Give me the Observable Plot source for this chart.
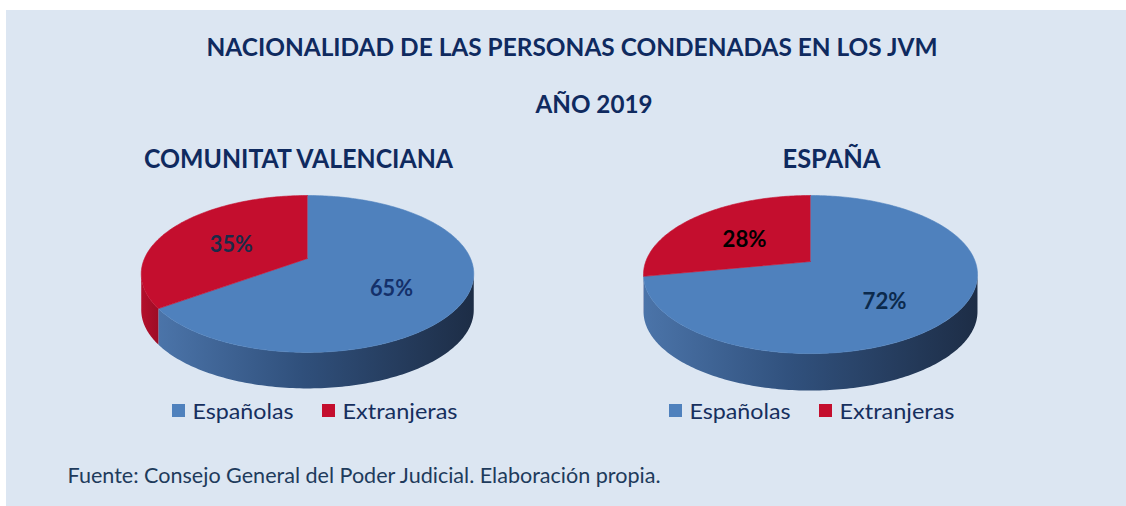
<!DOCTYPE html>
<html><head><meta charset="utf-8">
<script src="https://cdn.jsdelivr.net/npm/d3@7"></script>
<script src="https://cdn.jsdelivr.net/npm/@observablehq/plot@0.6"></script>
<style>
html,body{margin:0;padding:0;background:#fff;width:1126px;height:506px;overflow:hidden}
#panel{position:absolute;left:6px;top:10px;width:1120px;height:496px;background:#dce6f2}
#chart{position:absolute;left:0;top:0}
</style></head><body><div id="panel"></div><div id="chart"></div>
<script>
// ---- data ----
const title = "NACIONALIDAD DE LAS PERSONAS CONDENADAS EN LOS JVM";
const subtitle = "AÑO 2019";
const regions = ["COMUNITAT VALENCIANA", "ESPAÑA"];
const categories = ["Españolas", "Extranjeras"];
const sharesCV = [65, 35];
const sharesES = [72, 28];
const source = "Fuente: Consejo General del Poder Judicial. Elaboración propia.";

// ---- style / layout ----
const W = 1126, H = 506;
const colors = {"Españolas": "#4f81bd", "Extranjeras": "#c40e2e"};
const sideFill = {"Españolas": "url(#gBlue)", "Extranjeras": "url(#gRed)"};
const navy = "#0f2a5f";
const font = "Lato, 'Open Sans', sans-serif";
const pies = [
  {region: regions[0], shares: sharesCV, cx: 307, cy: 258, R: 163, K: 75.4, p: 0.197, depth: 36,
   titleX: 298, legendX: 172, labelColors: ["#14306a", "#1b2a48"]},
  {region: regions[1], shares: sharesES, cx: 810, cy: 261, R: 164.7, K: 76.9, p: 0.165, depth: 37,
   titleX: 831, legendX: 669, labelColors: ["#0c2a4c", "#000000"]}
];
const widths = {
  [title]: 731, [subtitle]: 117, [regions[0]]: 309, [regions[1]]: 98,
  "Españolas": 101, "Extranjeras": 115, [source]: 593,
  "35%": 43, "65%": 43, "28%": 44, "72%": 44
};

// perspective projection of a point on the tilted disc
function proj(pie, phi, r = 1) {
  const u = Math.sin(phi) * r, v = Math.cos(phi) * r;
  const s = 1 / (1 + pie.p * v);
  return [pie.cx + pie.R * u * s, pie.cy - pie.K * v * s];
}
function arcAngles(a0, a1) {
  const n = Math.max(2, Math.ceil((a1 - a0) / (Math.PI / 180)));
  return d3.range(n + 1).map(i => a0 + (a1 - a0) * i / n);
}

const topPts = [], sidePts = [], labels = [], legend = [];
pies.forEach((pie, pi) => {
  const arcs = d3.pie().sort(null).value(d => d)(pie.shares);
  const front = Math.acos(-pie.p); // silhouette angles
  arcs.forEach((a, si) => {
    const cat = categories[si];
    const id = `${pi}-${si}`;
    topPts.push({id, cat, x: pie.cx, y: pie.cy});
    arcAngles(a.startAngle, a.endAngle).forEach(phi => {
      const [x, y] = proj(pie, phi);
      topPts.push({id, cat, x, y});
    });
    const s0 = Math.max(a.startAngle, front), s1 = Math.min(a.endAngle, 2 * Math.PI - front);
    if (s1 > s0) {
      const ph = arcAngles(s0, s1);
      ph.forEach(phi => { const [x, y] = proj(pie, phi); sidePts.push({id, cat, x, y}); });
      ph.slice().reverse().forEach(phi => { const [x, y] = proj(pie, phi); sidePts.push({id, cat, x, y: y + pie.depth}); });
    }
    const mid = (a.startAngle + a.endAngle) / 2;
    const [lx, ly] = proj(pie, mid, 0.55);
    labels.push({x: lx, y: ly + (Math.cos(mid) < 0 ? pie.depth * 0.3 : 4),
                 text: `${pie.shares[si]}%`, color: pie.labelColors[si]});
  });
  categories.forEach((cat, i) => legend.push({cat, x: pie.legendX + i * 150, color: colors[cat]}));
});

const defsMark = () => {
  const g = d3.create("svg:g");
  const defs = g.append("defs");
  const gb = defs.append("linearGradient").attr("id", "gBlue").attr("x1", 0).attr("x2", 1).attr("y1", 0).attr("y2", 0);
  [[0, "#4b74a9"], [0.45, "#30507c"], [1, "#1d2d46"]].forEach(([o, c]) => gb.append("stop").attr("offset", o).attr("stop-color", c));
  const gr = defs.append("linearGradient").attr("id", "gRed").attr("x1", 0).attr("x2", 1).attr("y1", 0).attr("y2", 0);
  [[0, "#b3102c"], [1, "#9e0c25"]].forEach(([o, c]) => gr.append("stop").attr("offset", o).attr("stop-color", c));
  return g.node();
};

const marks = [defsMark];
categories.forEach(cat => {
  marks.push(Plot.line(sidePts.filter(d => d.cat === cat), {x: "x", y: "y", z: "id", fill: sideFill[cat], stroke: "none"}));
});
categories.forEach(cat => {
  marks.push(Plot.line(topPts.filter(d => d.cat === cat), {x: "x", y: "y", z: "id", fill: colors[cat], stroke: colors[cat], strokeWidth: 0.6}));
});
marks.push(
  Plot.text(labels, {x: "x", y: "y", text: "text", fill: "color", fontFamily: font, fontWeight: "bold", fontSize: 23, lineAnchor: "middle"}),
  Plot.text([title], {x: () => 571.5, y: () => 55, text: d => d, fill: navy, fontFamily: font, fontWeight: "bold", fontSize: 25, lineAnchor: "bottom"}),
  Plot.text([subtitle], {x: () => 593.5, y: () => 112, text: d => d, fill: navy, fontFamily: font, fontWeight: "bold", fontSize: 25, lineAnchor: "bottom"}),
  Plot.text(pies, {x: "titleX", y: () => 167, text: "region", fill: navy, fontFamily: font, fontWeight: "bold", fontSize: 26, lineAnchor: "bottom"}),
  Plot.rect(legend, {x1: "x", x2: d => d.x + 13, y1: () => 404, y2: () => 417, fill: "color"}),
  Plot.text(legend, {x: d => d.x + 20, y: () => 418, text: "cat", fill: "#162f5e", fontFamily: font, fontSize: 21, textAnchor: "start", lineAnchor: "bottom"}),
  Plot.text([source], {x: () => 67, y: () => 482, text: d => d, fill: "#1e3b5c", fontFamily: font, fontSize: 21, textAnchor: "start", lineAnchor: "bottom"})
);

const chart = Plot.plot({
  width: W, height: H, margin: 0,
  x: {domain: [0, W], range: [0, W], axis: null},
  y: {domain: [0, H], range: [0, H], axis: null},
  color: {type: "identity"},
  style: {background: "transparent", overflow: "visible"},
  marks
});
chart.querySelectorAll("text").forEach(t => {
  const w = widths[t.textContent];
  if (w) { t.setAttribute("textLength", w); t.setAttribute("lengthAdjust", "spacingAndGlyphs"); }
});
document.getElementById("chart").appendChild(chart);
</script></body></html>
